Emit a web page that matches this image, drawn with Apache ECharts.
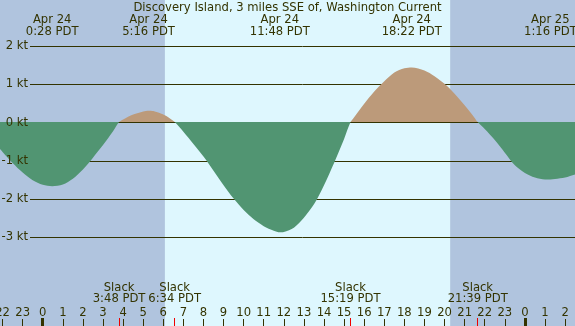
<!DOCTYPE html>
<html><head><meta charset="utf-8">
<script src="https://cdn.jsdelivr.net/npm/echarts@6/dist/echarts.min.js"></script>
<style>html,body{margin:0;padding:0;}#c{width:575px;height:326px;}</style>
</head><body><div id="c"></div>
<script>
const titleText = 'Discovery Island, 3 miles SSE of, Washington Current';
// hours since midnight Apr 24 (PDT) and current speed in knots
const hours = [-2.2,-2.0,-1.5,-1.0,-0.5,0.0,0.47,1.0,1.5,2.0,2.5,3.0,3.5,3.8,
  4.0,4.5,5.0,5.27,5.5,6.0,6.3,6.57,
  7.0,7.5,8.0,8.5,9.0,9.5,10.0,10.5,11.0,11.5,11.8,12.0,12.5,13.0,13.5,14.0,14.5,15.0,15.32,
  15.5,16.0,16.5,17.0,17.5,18.0,18.37,19.0,19.5,20.0,20.5,21.0,21.5,21.65,
  22.0,22.5,23.0,23.5,24.0,24.5,25.0,25.27,25.5,26.0,26.5,26.8];
const knots = [-0.66,-0.78,-1.07,-1.32,-1.52,-1.64,-1.675,-1.63,-1.48,-1.24,-0.93,-0.6,-0.24,0,
  0.07,0.2,0.28,0.30,0.29,0.2,0.11,0,
  -0.25,-0.57,-0.9,-1.27,-1.65,-2.0,-2.3,-2.54,-2.72,-2.84,-2.88,-2.87,-2.76,-2.5,-2.15,-1.65,-1.07,-0.44,0,
  0.13,0.48,0.8,1.07,1.3,1.41,1.43,1.35,1.2,1.0,0.74,0.44,0.11,0,
  -0.18,-0.47,-0.8,-1.13,-1.33,-1.45,-1.5,-1.5,-1.49,-1.45,-1.37,-1.31];
const extremeDates = ['Apr 24','Apr 24','Apr 24','Apr 24','Apr 25'];
const extremeTimes = ['0:28 PDT','5:16 PDT','11:48 PDT','18:22 PDT','1:16 PDT'];
const extremeHours = [0.467, 5.267, 11.8, 18.367, 25.267];
const slackTimes = ['3:48 PDT','6:34 PDT','15:19 PDT','21:39 PDT'];
const slackHours = [3.8, 6.567, 15.317, 21.65];
const midnightHours = [0, 24];
const sunrise = 6.08, sunset = 20.28;
const yRange = [-3, 2]; // labelled knot lines

const TXT = '#333300', NIGHT = '#b0c4de', DAY = '#def7fe', EBB = '#519572', FLOOD = '#bc9a7a';
const FONT = 'DejaVu Sans', FS = 11.6;
// pixel layout
const Y0 = 122.6, PXK = 38.25, H = 326;
const Y0D = Y0 - 0.5; // zero row of the filled curve
const X0 = 42.75, PXH = 20.09;
const yv = py => (Y0D - py) / PXK; // pixel row -> value on the full-height axis

const areaFill = {type: 'linear', x: 0, y: 0, x2: 0, y2: H, global: true, colorStops: [
  {offset: 0, color: FLOOD}, {offset: (Y0D - 0.3) / H, color: FLOOD},
  {offset: (Y0D - 0.3) / H, color: EBB}, {offset: 1, color: EBB}]};

const chart = echarts.init(document.getElementById('c'), null, {renderer: 'canvas'});
const lblStyle = {color: TXT, fontSize: FS, fontFamily: FONT};
chart.setOption({
  animation: false,
  backgroundColor: NIGHT,
  textStyle: {fontFamily: FONT},
  title: {text: titleText, left: 'center', top: -3, textStyle: {color: TXT, fontSize: FS, fontWeight: 'normal', fontFamily: FONT}, z: 10},
  grid: [
    {left: X0 - 3 * PXH, right: 575 - (X0 + 27 * PXH), top: 0, bottom: 0, outerBoundsMode: 'none', containLabel: false},
    {left: 30, right: 0, top: Y0 - yRange[1] * PXK, bottom: H - (Y0 - yRange[0] * PXK), outerBoundsMode: 'none', containLabel: false}
  ],
  xAxis: [
    {type: 'value', gridIndex: 0, min: -3, max: 27, interval: 1, z: 4, position: 'bottom',
     axisLine: {show: false, onZero: false}, splitLine: {show: false},
     axisTick: {show: true, inside: true, length: 7, lineStyle: {color: TXT, width: 1}},
     axisLabel: {show: true, inside: true, margin: 7, ...lblStyle, formatter: v => String(((v % 24) + 24) % 24)}},
    {type: 'value', gridIndex: 1, min: 0, max: 1, show: false}
  ],
  yAxis: [
    {type: 'value', gridIndex: 0, min: yv(H), max: yv(0), show: false},
    {type: 'value', gridIndex: 1, min: yRange[0], max: yRange[1], interval: 1, z: 1, position: 'left',
     axisLine: {show: false}, axisTick: {show: false}, axisLabel: {show: false},
     splitLine: {show: true, lineStyle: {color: TXT, width: 1}}},
    {type: 'value', gridIndex: 1, min: yRange[0], max: yRange[1], interval: 1, z: 6, position: 'left',
     axisLine: {show: false, onZero: false}, axisTick: {show: false}, splitLine: {show: false},
     axisLabel: {show: true, margin: 2, ...lblStyle, formatter: v => v + ' kt'}}
  ],
  series: [
    {type: 'line', xAxisIndex: 0, yAxisIndex: 0, z: 2,
     data: hours.map((h, i) => [h, knots[i]]),
     smooth: 0.3, symbol: 'none', lineStyle: {width: 0}, itemStyle: {color: EBB},
     areaStyle: {opacity: 1, color: areaFill},
     markArea: {silent: true, z: 0.5, itemStyle: {color: DAY},
       data: [[{coord: [sunrise, yv(0)]}, {coord: [sunset, yv(H)]}]]},
     markPoint: {silent: true, symbol: 'circle', symbolSize: 1, itemStyle: {color: 'rgba(0,0,0,0)'}, z: 8,
       label: {show: true, position: 'inside', formatter: '{b}', ...lblStyle, lineHeight: 12},
       data: extremeHours.map((h, i) => ({name: extremeDates[i] + '\n' + extremeTimes[i], coord: [h, yv(25.5)]}))
         .concat(slackHours.map((h, i) => ({name: 'Slack\n' + slackTimes[i], coord: [h, yv(293.5)], label: {lineHeight: 11}})))},
     markLine: {silent: true, symbol: ['none', 'none'], z: 8, label: {show: false},
       data: slackHours.map(h => [{coord: [h, yv(318)], lineStyle: {color: '#ee0000', width: 1, type: 'solid'}}, {coord: [h, yv(H)]}])
         .concat(midnightHours.map(h => [{coord: [h, yv(318)], lineStyle: {color: TXT, width: 3, type: 'solid'}}, {coord: [h, yv(H)]}]))}
    }
  ]
});
</script></body></html>
